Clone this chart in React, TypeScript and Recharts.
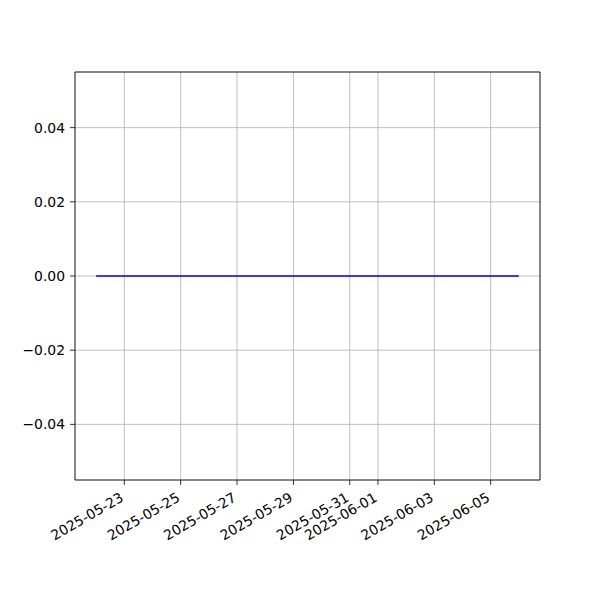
import { LineChart, Line, XAxis, YAxis, CartesianGrid, ReferenceArea } from "recharts"

// day index 0 = 2025-05-22
const dates = [
  "2025-05-22", "2025-05-23", "2025-05-24", "2025-05-25", "2025-05-26", "2025-05-27",
  "2025-05-28", "2025-05-29", "2025-05-30", "2025-05-31", "2025-06-01", "2025-06-02",
  "2025-06-03", "2025-06-04", "2025-06-05", "2025-06-06",
]
const values = [0, 0, 0, 0, 0, 0, 0, 0, 0, 0, 0, 0, 0, 0, 0, 0]
const xTicks = [1, 3, 5, 7, 9, 10, 12, 14]
const yTicks = [-0.04, -0.02, 0, 0.02, 0.04]

const data = dates.map((d, i) => ({ day: i, date: d, value: values[i] }))

const FONT = "DejaVu Sans, sans-serif"
const FS = 13.9

// rotated 30deg, right/top aligned like matplotlib autofmt_xdate
function DateTick(props: any) {
  const { x, y, payload } = props
  return (
    <g transform={`translate(${x},${y}) rotate(-30)`}>
      <text x={-5} y={9} textAnchor="end" fill="#000" fontFamily={FONT} fontSize={FS}>
        {dates[payload.value]}
      </text>
    </g>
  )
}

const fmtY = (v: number) => (v < 0 ? "\u2212" + Math.abs(v).toFixed(2) : v.toFixed(2))

export default function App() {
  return (
    <div style={{ width: 600, height: 600, background: "#fff" }}>
      <style>{"body{margin:0}"}</style>
      <LineChart width={600} height={600} data={data} margin={{ top: 72, right: 60, bottom: 60, left: 15 }}>
        <CartesianGrid stroke="#b0b0b0" strokeWidth={0.8} />
        <XAxis
          dataKey="day"
          type="number"
          domain={[-0.75, 15.75]}
          ticks={xTicks}
          interval={0}
          height={60}
          tick={<DateTick />}
          tickSize={5}
          tickMargin={5}
          axisLine={false}
          tickLine={{ stroke: "#000", strokeWidth: 0.8 }}
        />
        <YAxis
          type="number"
          domain={[-0.055, 0.055]}
          ticks={yTicks}
          width={60}
          tickFormatter={fmtY}
          tick={{ fill: "#000", fontFamily: FONT, fontSize: FS }}
          tickSize={5}
          tickMargin={5}
          axisLine={false}
          tickLine={{ stroke: "#000", strokeWidth: 0.8 }}
          allowDataOverflow
        />
        <ReferenceArea x1={-0.75} x2={15.75} y1={-0.055} y2={0.055} fill="none" stroke="#000" strokeWidth={0.8} />
        <Line dataKey="value" stroke="#0000ff" strokeWidth={1.5} dot={false} isAnimationActive={false} />
      </LineChart>
    </div>
  )
}
